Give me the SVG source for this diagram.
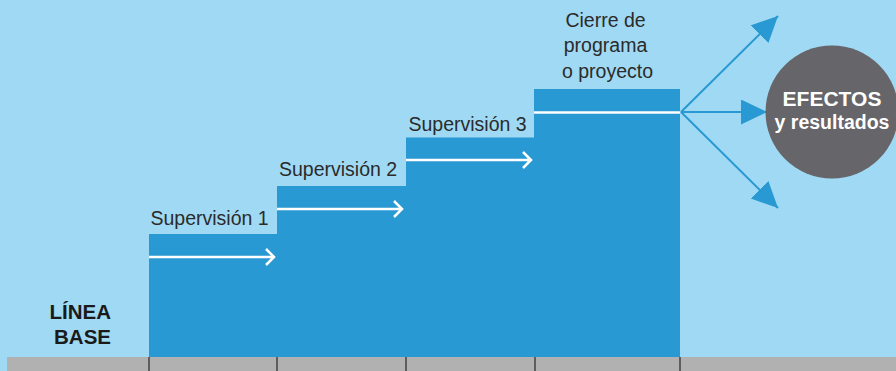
<svg xmlns="http://www.w3.org/2000/svg" width="896" height="371" viewBox="0 0 896 371">
<style>
.lbl{font-family:"Liberation Sans",Arial,sans-serif;font-size:19.5px;fill:#2b2b2b}
.bold{font-family:"Liberation Sans",Arial,sans-serif;font-weight:bold}
.step{fill:#2899D2}
.warrow{fill:none;stroke:#ffffff;stroke-width:2.5}
.barrow{fill:none;stroke:#2899D2;stroke-width:2}
.tick{stroke:#5e5e5e;stroke-width:2}
</style>
<defs>
<marker id="bh" markerWidth="26" markerHeight="26" refX="26" refY="12.5" orient="auto" markerUnits="userSpaceOnUse">
<path d="M0,0 L26,12.5 L0,25 Z" fill="#2899D2"/>
</marker>
</defs>
<rect x="0" y="0" width="896" height="371" fill="#A0D9F3"/>
<g id="baseline-bar">
<rect x="7" y="357" width="889" height="14" fill="#B1B1B1"/>
<line class="tick" x1="149" y1="357" x2="149" y2="371"/>
<line class="tick" x1="277" y1="357" x2="277" y2="371"/>
<line class="tick" x1="406" y1="357" x2="406" y2="371"/>
<line class="tick" x1="535" y1="357" x2="535" y2="371"/>
<line class="tick" x1="680" y1="357" x2="680" y2="371"/>
</g>
<g id="linea-base">
<text class="bold" font-size="20.5" fill="#1a1a1a" text-anchor="end" x="111" y="319">LÍNEA</text>
<text class="bold" font-size="20.5" fill="#1a1a1a" text-anchor="end" x="111" y="344">BASE</text>
</g>
<g id="staircase">
<path class="step" d="M149,357 L149,234 L277,234 L277,186 L406,186 L406,137.5 L534,137.5 L534,89 L680,89 L680,357 Z"/>
</g>
<g id="sup1">
<text class="lbl" x="150.5" y="225">Supervisión 1</text>
</g>
<g id="sup2">
<text class="lbl" x="279" y="176">Supervisión 2</text>
</g>
<g id="sup3">
<text class="lbl" x="408.5" y="130.5">Supervisión 3</text>
</g>
<g id="cierre">
<text class="lbl" text-anchor="middle" x="605.5" y="26.5">Cierre de</text>
<text class="lbl" text-anchor="middle" x="605.5" y="52">programa</text>
<text class="lbl" text-anchor="middle" x="607.5" y="78">o proyecto</text>
</g>
<g id="connectors">
<path class="warrow" d="M149,257 L274,257 M266,249 L274,257 L266,265"/>
<path class="warrow" d="M277,209 L402,209 M394,201 L402,209 L394,217"/>
<path class="warrow" d="M406,160 L531,160 M523,152 L531,160 L523,168"/>
<line x1="534" y1="112.5" x2="680" y2="112.5" stroke="#ffffff" stroke-width="2.5"/>
<line class="barrow" x1="681" y1="112" x2="778" y2="16" marker-end="url(#bh)"/>
<line class="barrow" x1="681" y1="112" x2="767" y2="112" marker-end="url(#bh)"/>
<line class="barrow" x1="681" y1="112" x2="778" y2="208" marker-end="url(#bh)"/>
</g>
<g id="efectos">
<circle cx="832" cy="112" r="66.5" fill="#666569"/>
<text class="bold" font-size="21" fill="#ffffff" text-anchor="middle" x="832" y="106">EFECTOS</text>
<text class="bold" font-size="19.5" fill="#ffffff" text-anchor="middle" x="832" y="129">y resultados</text>
</g>
</svg>
